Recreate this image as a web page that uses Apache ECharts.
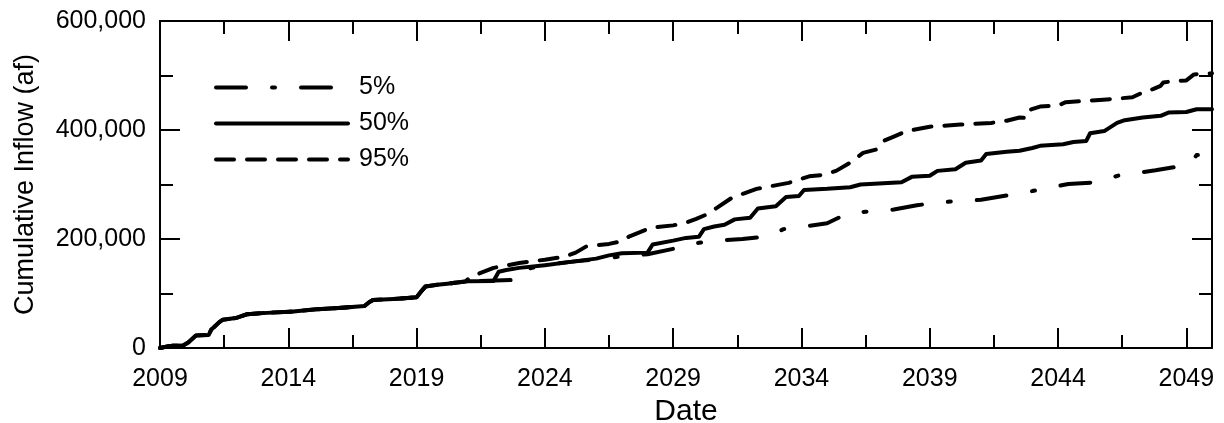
<!DOCTYPE html>
<html>
<head>
<meta charset="utf-8">
<script src="https://cdn.jsdelivr.net/npm/echarts@6/dist/echarts.min.js"></script>
<style>
  html, body { margin: 0; padding: 0; background: #fff; }
  #chart { width: 1224px; height: 423px; }
</style>
</head>
<body>
<div id="chart"></div>
<script>
// ---- data (decimal year, cumulative inflow in acre-feet) ----
const startYear = 2009;
const endYear = 2050;
const xTickStep = 5;
const yTicks = [0, 200000, 400000, 600000];
const seriesNames = ['5%', '50%', '95%'];

const common = [
  [2009.0, 0], [2009.3, 3000], [2009.5, 4000], [2009.9, 4500], [2010.1, 10000], [2010.4, 23000],
  [2010.9, 24000], [2011.0, 34000], [2011.1, 38000], [2011.3, 47000], [2011.45, 52000],
  [2011.95, 55000], [2012.4, 62000], [2013.0, 64000], [2014.2, 67000], [2015.1, 71000],
  [2016.1, 74000], [2016.97, 77000], [2017.15, 84000], [2017.3, 88000], [2018.1, 90000],
  [2019.0, 93000], [2019.2, 105000], [2019.35, 113000], [2019.8, 116000], [2020.2, 118000],
  [2020.9, 122000]
];

const p50 = common.concat([
  [2021.0, 122500], [2022.0, 123000], [2022.2, 140000], [2022.5, 143000], [2023.0, 147000],
  [2024.0, 152000], [2025.0, 158000], [2026.0, 164000], [2026.5, 170000], [2027.0, 174000],
  [2028.0, 175000], [2028.2, 190000], [2029.0, 197000], [2029.5, 202000], [2030.0, 204000],
  [2030.2, 218000], [2030.6, 223000], [2031.0, 226000], [2031.4, 236000], [2032.0, 239000],
  [2032.3, 256000], [2033.0, 260000], [2033.4, 277000], [2033.9, 279000], [2034.1, 290000],
  [2035.0, 292000], [2035.9, 295000], [2036.3, 300000], [2037.9, 304000], [2038.3, 314000],
  [2039.0, 316000], [2039.3, 325000], [2040.0, 328000], [2040.4, 340000], [2041.0, 344000],
  [2041.2, 356000], [2042.0, 360000], [2042.5, 362000], [2043.0, 367000], [2043.3, 371000],
  [2044.2, 374000], [2044.6, 378000], [2045.1, 380000], [2045.25, 394000], [2045.8, 398000],
  [2046.3, 413000], [2046.6, 418000], [2047.3, 423000], [2048.0, 426000], [2048.3, 432000],
  [2049.0, 433000], [2049.4, 438000], [2050.0, 438000]
]);

const p95 = common.concat([
  [2021.0, 126000], [2021.3, 134000], [2022.0, 147000], [2023.0, 156000], [2024.0, 162000],
  [2024.8, 168000], [2025.2, 175000], [2025.6, 186000], [2026.5, 191000], [2027.0, 196000],
  [2027.3, 205000], [2028.15, 221000], [2029.0, 225000], [2029.5, 230000], [2029.9, 237000],
  [2030.3, 245000], [2030.7, 257000], [2031.3, 276000], [2032.25, 292000], [2033.5, 303000],
  [2034.3, 315000], [2034.9, 318000], [2035.35, 325000], [2035.9, 340000], [2036.0, 344000],
  [2036.4, 358000], [2036.9, 364000], [2037.2, 380000], [2037.6, 388000], [2038.1, 398000],
  [2039.0, 406000], [2040.2, 410000], [2041.4, 413000], [2042.0, 417000], [2042.5, 423000],
  [2042.8, 422000], [2042.95, 438000], [2043.3, 443000], [2044.0, 445000], [2044.3, 451000],
  [2045.9, 456000], [2046.9, 460000], [2047.3, 469000], [2047.7, 475000], [2048.0, 481000],
  [2048.1, 487000], [2048.5, 490000], [2049.0, 491000], [2049.3, 502000], [2050.0, 504000]
]);

const p5 = common.concat([
  [2021.0, 122000], [2022.9, 125000], [2023.1, 143000], [2023.5, 147000], [2024.0, 152000],
  [2025.0, 158000], [2026.0, 163000], [2027.0, 168000], [2028.0, 172000], [2029.0, 182000],
  [2029.3, 188000], [2030.0, 193000], [2030.6, 197000], [2031.7, 200000], [2032.7, 205000],
  [2033.3, 218000], [2034.0, 222000], [2035.0, 229000], [2035.8, 247000], [2036.5, 250000],
  [2037.2, 252000], [2037.6, 254000], [2038.5, 262000], [2039.6, 268000], [2041.0, 272000],
  [2042.0, 280000], [2043.0, 288000], [2044.4, 301000], [2045.5, 304000], [2046.4, 317000],
  [2047.2, 322000], [2047.8, 326000], [2048.8, 334000], [2049.2, 340000], [2049.4, 354000],
  [2050.0, 355000]
]);

// ---- chart ----
const toOffset = arr => arr.map(p => [p[0] - startYear, p[1]]);
const FONT = '"Liberation Sans", Arial, Helvetica, sans-serif';
const black = '#000';

function xAxisCfg(pos, showLabels) {
  return {
    type: 'value', position: pos, min: 0, max: endYear - startYear, interval: xTickStep,
    axisLine: { show: true, onZero: false, lineStyle: { color: black, width: 2 } },
    axisTick: { show: true, inside: true, length: 20, lineStyle: { color: black, width: 2 } },
    minorTick: { show: true, splitNumber: 2, length: 13, lineStyle: { color: black, width: 2 } },
    splitLine: { show: false }, minorSplitLine: { show: false },
    axisLabel: {
      show: showLabels, margin: 19, fontSize: 25, color: black, fontFamily: FONT,
      formatter: v => String(v + startYear)
    },
    name: showLabels ? 'Date' : '', nameLocation: 'middle', nameGap: 40,
    nameTextStyle: { fontSize: 30, color: black, fontFamily: FONT }
  };
}
function yAxisCfg(pos, showLabels) {
  return {
    type: 'value', position: pos, min: yTicks[0], max: yTicks[yTicks.length - 1],
    interval: yTicks[1] - yTicks[0],
    axisLine: { show: true, onZero: false, lineStyle: { color: black, width: 2 } },
    axisTick: { show: true, inside: true, length: 20, lineStyle: { color: black, width: 2 } },
    minorTick: { show: true, splitNumber: 2, length: 13, lineStyle: { color: black, width: 2 } },
    splitLine: { show: false }, minorSplitLine: { show: false },
    axisLabel: {
      show: showLabels, margin: 14, fontSize: 25, color: black, fontFamily: FONT,
      formatter: v => v.toLocaleString('en-US')
    },
    name: showLabels ? 'Cumulative Inflow (af)' : '', nameLocation: 'middle', nameGap: 121,
    nameTextStyle: { fontSize: 27, color: black, fontFamily: FONT }
  };
}

const styles = {
  '5%':  [30, 26, 3, 26],
  '50%': 'solid',
  '95%': [18, 13]
};
const dataMap = { '5%': p5, '50%': p50, '95%': p95 };

const chart = echarts.init(document.getElementById('chart'), null, { renderer: 'canvas' });
chart.setOption({
  animation: false,
  backgroundColor: '#fff',
  grid: { left: 160, right: 12, top: 21, bottom: 75, containLabel: false, outerBoundsMode: 'none' },
  xAxis: [xAxisCfg('bottom', true), xAxisCfg('top', false)],
  yAxis: [yAxisCfg('left', true), yAxisCfg('right', false)],
  legend: {
    orient: 'vertical', left: 209, top: 70,
    itemWidth: 132, itemHeight: 20, itemGap: 11,
    itemStyle: { opacity: 0 },
    lineStyle: { width: 4, cap: 'round' },
    textStyle: { fontSize: 25, color: black, fontFamily: FONT, lineHeight: 20, padding: [0, 0, 0, 6] },
    data: seriesNames
  },
  series: seriesNames.map(n => ({
    name: n, type: 'line', xAxisIndex: 0, yAxisIndex: 0,
    data: toOffset(dataMap[n]),
    symbol: 'none', showSymbol: false, smooth: false,
    lineStyle: { color: black, width: 4, type: styles[n], cap: 'round', join: 'round' },
    itemStyle: { color: black },
    emphasis: { disabled: true }
  }))
});
</script>
</body>
</html>
